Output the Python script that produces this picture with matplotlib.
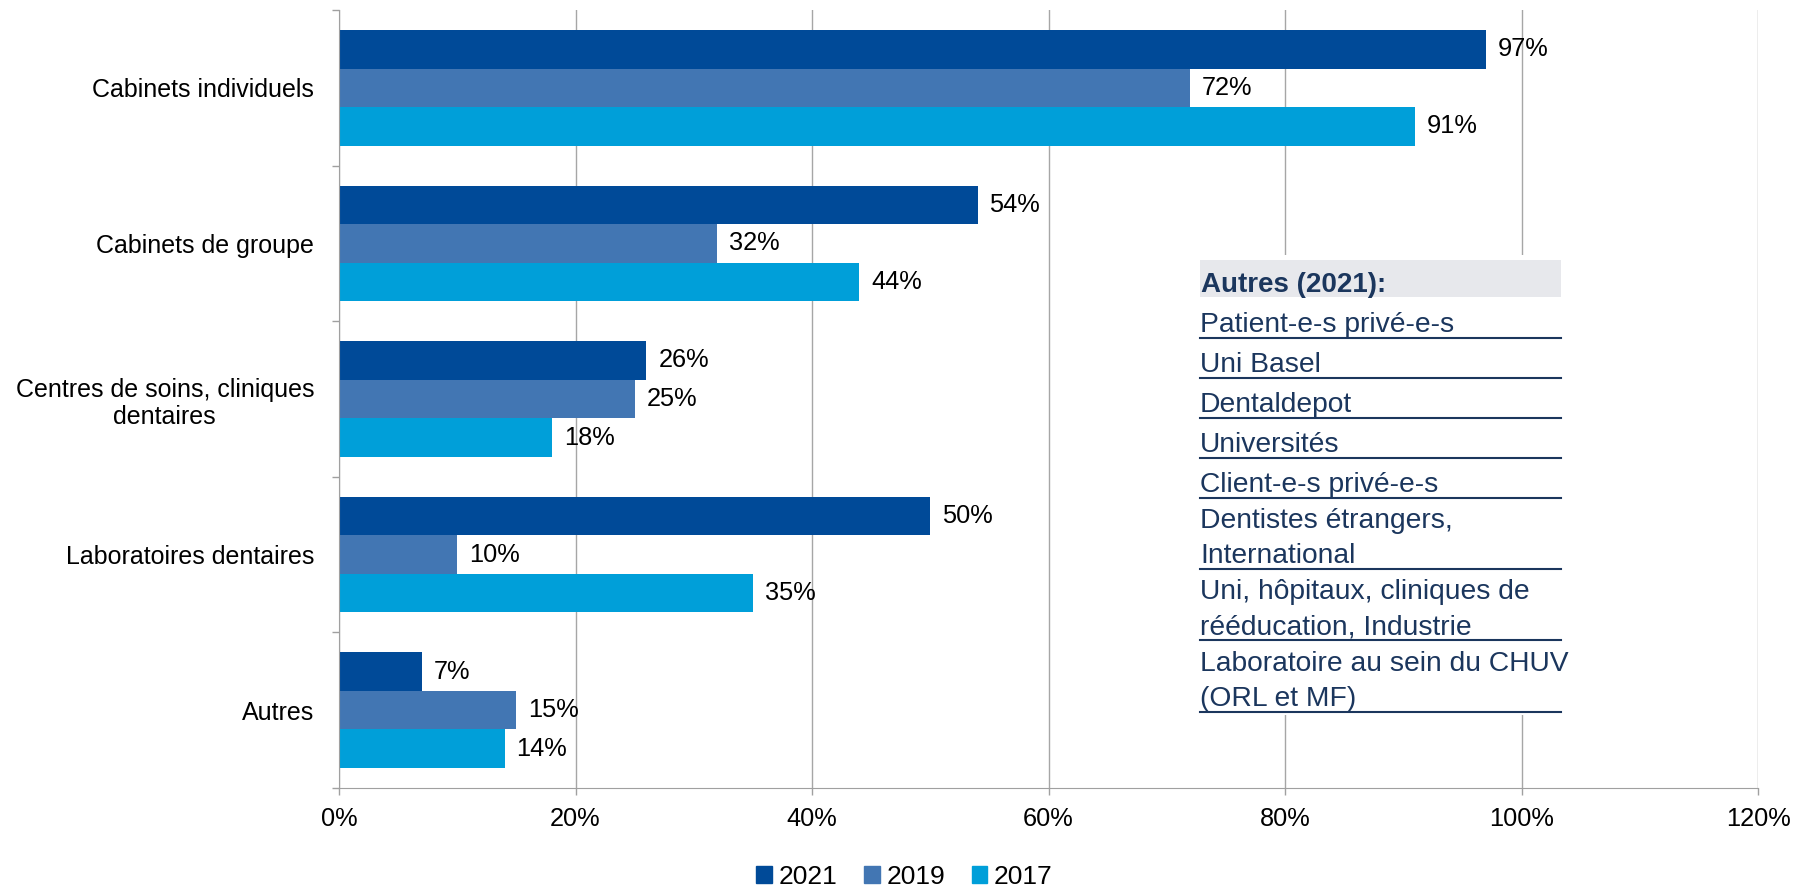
import matplotlib.pyplot as plt
import numpy as np
from matplotlib.lines import Line2D
from matplotlib.patches import Rectangle, Patch

# data
categories = ['Cabinets individuels', 'Cabinets de groupe',
              'Centres de soins, cliniques\ndentaires',
              'Laboratoires dentaires', 'Autres']
years = ['2021', '2019', '2017']
v2021 = [97, 54, 26, 50, 7]
v2019 = [72, 32, 25, 10, 15]
v2017 = [91, 44, 18, 35, 14]
colors = ['#004a98', '#4276b3', '#009fd9']

table_title = 'Autres (2021):'
table_rows = ['Patient-e-s privé-e-s', 'Uni Basel', 'Dentaldepot', 'Universités',
              'Client-e-s privé-e-s', 'Dentistes étrangers,\nInternational',
              'Uni, hôpitaux, cliniques de\nrééducation, Industrie',
              'Laboratoire au sein du CHUV\n(ORL et MF)']

plt.rcParams['font.family'] = ['Liberation Sans', 'DejaVu Sans']
W, H = 1802, 892
fs = 18
fig = plt.figure(figsize=(W / 100, H / 100), dpi=100)
ax = fig.add_axes([339 / W, 1 - 788 / H, (1758 - 339) / W, (788 - 10) / H])

y = np.arange(len(categories))
bw = 0.248
for i, (vals, lab) in enumerate(zip([v2021, v2019, v2017], years)):
    pos = y + (i - 1) * bw
    ax.barh(pos, vals, height=bw, color=colors[i], label=lab, zorder=3)
    for p, v in zip(pos, vals):
        ax.annotate('{}%'.format(v), (v, p), xytext=(8.5, 0), textcoords='offset points',
                    va='center', ha='left', fontsize=fs + 0.3, color='black', zorder=4)

ax.set_xlim(0, 120)
ax.set_ylim(len(categories) - 0.5, -0.5)
ax.set_xticks(range(0, 121, 20))
ax.set_xticklabels(['{}%'.format(t) for t in range(0, 121, 20)], fontsize=fs + 0.3)
ax.set_yticks(y)
ax.set_yticklabels(categories, fontsize=fs, multialignment='center')
ax.set_yticks(np.arange(-0.5, len(categories)), minor=True)
ax.tick_params(axis='y', which='major', length=0, pad=18)
ax.tick_params(axis='y', which='minor', length=5, color='#a0a0a0', width=1)
ax.tick_params(axis='x', length=5, color='#a0a0a0', width=1, pad=9)
ax.xaxis.grid(True, color='#a6a6a6', lw=1, zorder=0)
for s in ['top', 'right']:
    ax.spines[s].set_visible(False)
for s in ['left', 'bottom']:
    ax.spines[s].set_color('#a0a0a0')
    ax.spines[s].set_zorder(5)

handles = [Patch(color=c, label=l) for c, l in zip(colors, years)]
fig.legend(handles=handles, loc='center', bbox_to_anchor=(0.502, 1 - 877 / H), ncol=3,
           frameon=False, fontsize=fs + 1, handlelength=0.6, handleheight=0.6,
           handletextpad=0.25, columnspacing=1.0)

# side table in pixel coordinates
def fx(px):
    return px / W

def fy(py):
    return 1 - py / H

navy = '#1b365d'
fig.add_artist(Rectangle((fx(1195), fy(715)), fx(1565) - fx(1195), fy(255) - fy(715),
                         transform=fig.transFigure, facecolor='white', edgecolor='none', zorder=6))
fig.add_artist(Rectangle((fx(1200), fy(297)), fx(1561) - fx(1200), fy(260) - fy(297),
                         transform=fig.transFigure, facecolor='#e7e8ec', edgecolor='none', zorder=7))
fig.text(fx(1201), fy(292), table_title, fontsize=20, fontweight='bold', color=navy,
         va='baseline', ha='left', zorder=8)

line_ys = [338, 378, 418, 458, 498, 569, 640, 712]
for row, ly in zip(table_rows, line_ys):
    parts = row.split('\n')
    for k, part in enumerate(parts):
        base = ly - 6 - (len(parts) - 1 - k) * 35
        fig.text(fx(1200), fy(base), part, fontsize=20.3, color=navy,
                 va='baseline', ha='left', zorder=8)
    fig.add_artist(Line2D([fx(1200), fx(1561)], [fy(ly), fy(ly)], transform=fig.transFigure,
                          color=navy, lw=1.5, zorder=8))

fig.savefig('out.png', dpi=100)
